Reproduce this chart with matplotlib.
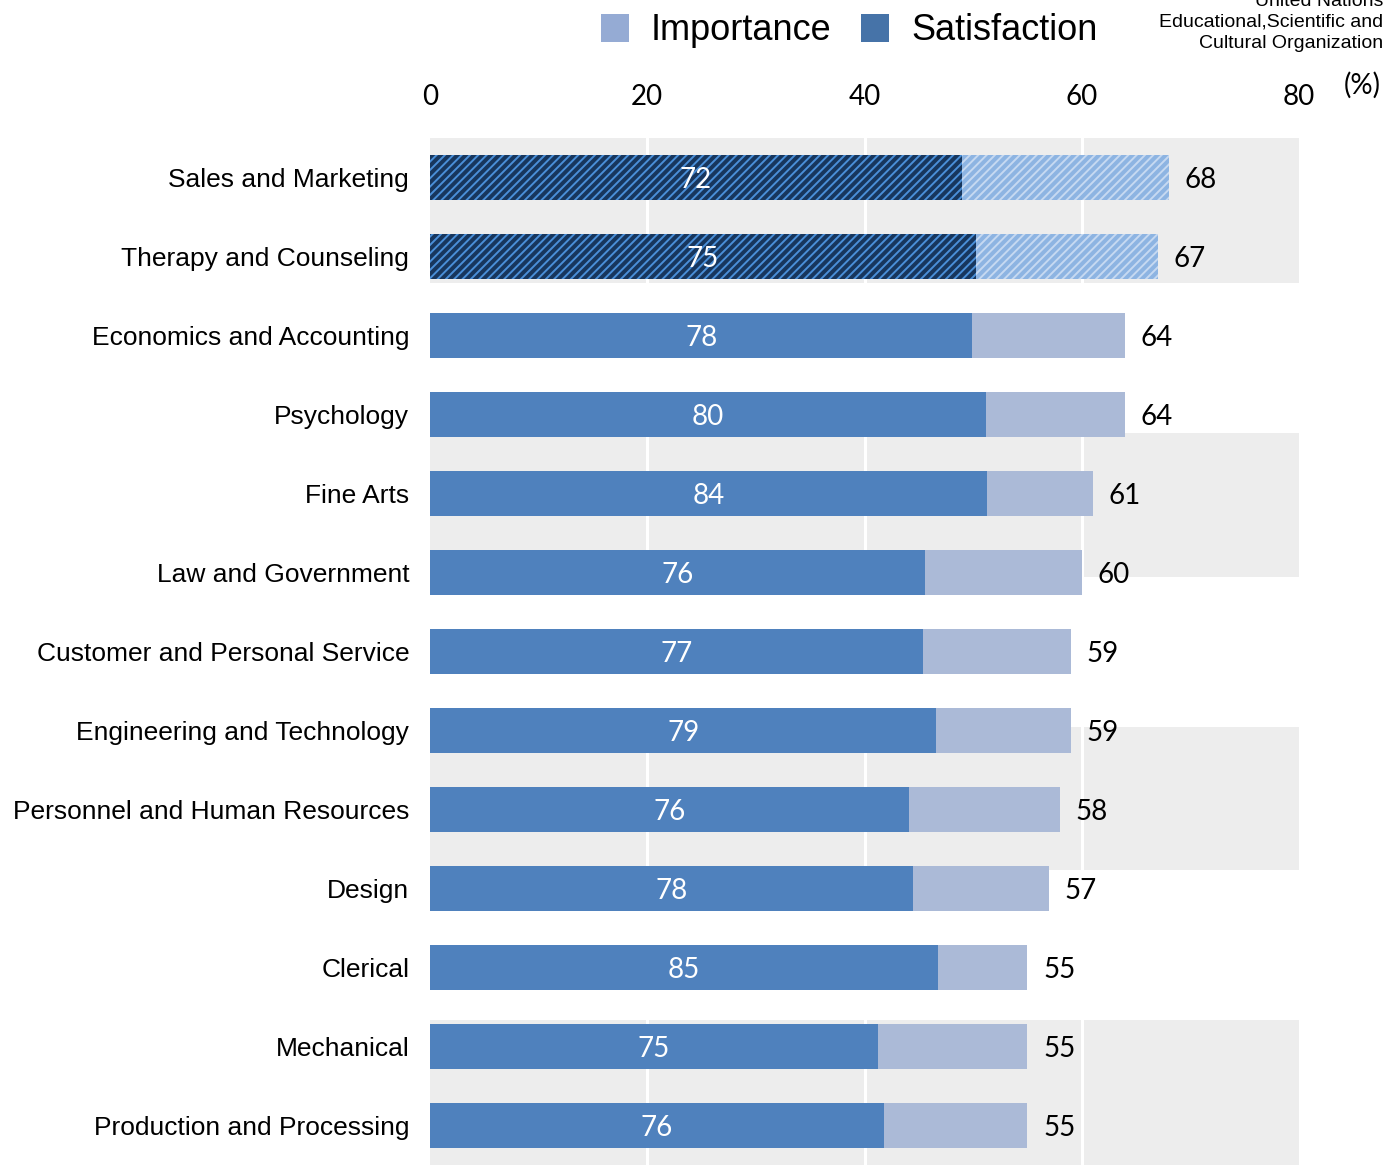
import numpy as np
import matplotlib
matplotlib.use('Agg')
import matplotlib.pyplot as plt
from matplotlib.patches import Patch

# Campos de trabalho: importância (%) e satisfação (%) de cada área
categorias = ['Sales and Marketing', 'Therapy and Counseling', 'Economics and Accounting',
              'Psychology', 'Fine Arts', 'Law and Government', 'Customer and Personal Service',
              'Engineering and Technology', 'Personnel and Human Resources', 'Design',
              'Clerical', 'Mechanical', 'Production and Processing']
importancia = [68, 67, 64, 64, 61, 60, 59, 59, 58, 57, 55, 55, 55]
satisfacao = [72, 75, 78, 80, 84, 76, 77, 79, 76, 78, 85, 75, 76]
destaque = [0, 1]  # linhas com preenchimento hachurado
ticks_x = [0, 20, 40, 60, 80]

# faixas cinzas de fundo (em unidades de linha)
faixas = [(-0.5, 1.33), (3.23, 5.06), (6.96, 8.77), (10.67, 12.5)]

COR_SAT = '#4F81BD'
COR_IMP = '#ABBAD7'
FONTE_NUM = 'Lato'
FONTE_TXT = 'Liberation Sans'

plt.rcParams['hatch.linewidth'] = 1.4

fig = plt.figure(figsize=(13.93, 11.68), dpi=100)
ax = fig.add_axes([430 / 1393, 3 / 1168, 869 / 1393, 1027 / 1168])

y = np.arange(len(categorias))
imp = np.array(importancia, dtype=float)
sat_len = imp * np.array(satisfacao) / 100.0

# fundo cinza com linhas de grade brancas
for y0, y1 in faixas:
    ax.axhspan(y0, y1, color='#EDEDED', lw=0, zorder=0)
for t in ticks_x[1:-1]:
    ax.axvline(t, color='white', lw=2.2, zorder=1)

altura = 0.56
for i in y:
    if i in destaque:
        ax.barh(i, sat_len[i], height=altura, color='#17365D', edgecolor='#4A8FD8',
                hatch='////', lw=0, zorder=3)
        ax.barh(i, imp[i] - sat_len[i], left=sat_len[i], height=altura, color='#8DB4E2',
                edgecolor='#C6D9F1', hatch='////', lw=0, zorder=3)
    else:
        ax.barh(i, sat_len[i], height=altura, color=COR_SAT, lw=0, zorder=3)
        ax.barh(i, imp[i] - sat_len[i], left=sat_len[i], height=altura, color=COR_IMP,
                lw=0, zorder=3)
    ax.text(sat_len[i] / 2, i + 0.03, str(satisfacao[i]), color='white', ha='center',
            va='center', fontsize=20, family=FONTE_NUM, zorder=4)
    ax.text(imp[i] + 1.45, i + 0.03, str(importancia[i]), color='black', ha='left',
            va='center', fontsize=20, family=FONTE_NUM, zorder=4)

ax.set_xlim(0, 80)
ax.set_ylim(12.5, -0.5)
ax.xaxis.tick_top()
ax.set_xticks(ticks_x)
ax.set_xticklabels([str(t) for t in ticks_x], fontsize=20, family=FONTE_NUM)
ax.tick_params(axis='x', length=0, pad=20.5)
ax.set_yticks(y)
ax.set_yticklabels(categorias, fontsize=19, family=FONTE_TXT)
ax.tick_params(axis='y', length=0, pad=15)
for s in ax.spines.values():
    s.set_visible(False)

fig.text(1381 / 1393, 1 - 85 / 1168, '(%)', ha='right', va='center', fontsize=20,
         family=FONTE_NUM)

# legenda
handles = [Patch(facecolor='#95ABD4', edgecolor='none', label='Importance'),
           Patch(facecolor='#4673A8', edgecolor='none', label='Satisfaction')]
fig.legend(handles=handles, loc='center', bbox_to_anchor=(849 / 1393, 1 - 31 / 1168),
           ncol=2, frameon=False, prop={'family': FONTE_TXT, 'size': 26},
           handlelength=0.8, handleheight=0.8, handletextpad=0.6, columnspacing=0.8)

# fonte
for txt, yp in [('United Nations', 1), ('Educational,Scientific and', 22),
                ('Cultural Organization', 43)]:
    fig.text(1383 / 1393, 1 - yp / 1168, txt, ha='right', va='center', fontsize=14,
             family=FONTE_TXT)

fig.savefig('out.png', dpi=100)
